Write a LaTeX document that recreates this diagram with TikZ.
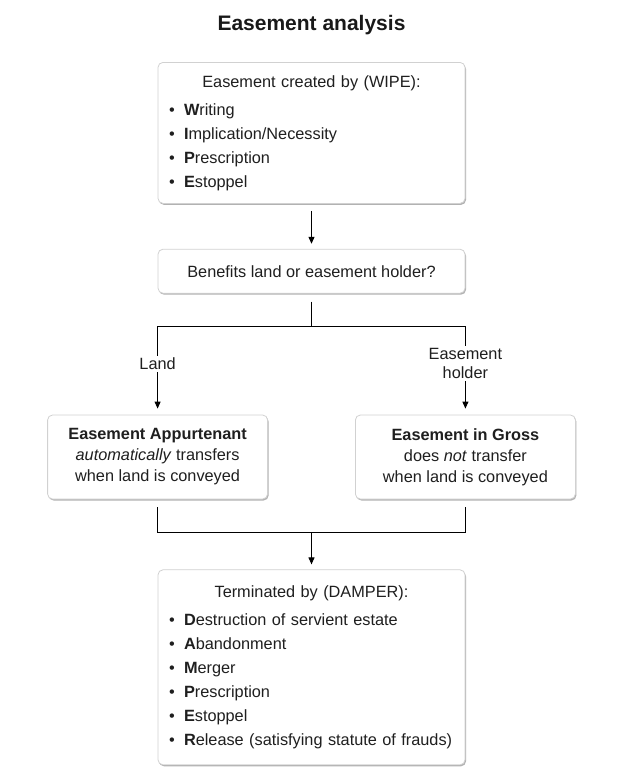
\documentclass[tikz,border=0pt]{standalone}
\usepackage{fontspec}
\setmainfont{Liberation Sans}
\usepackage{xcolor}
\usepackage{tikz}
\usetikzlibrary{arrows.meta,positioning,shadows}
\tikzset{
  card/.style={draw=black!18, fill=white, rounded corners=5pt, line width=0.8pt,
    drop shadow={shadow xshift=1pt, shadow yshift=-1.5pt, fill=black, opacity=0.3},
    text=black!88, font=\fontsize{16.3}{24}\selectfont},
  listcard/.style={card, inner xsep=11pt, text width=285pt, align=left},
  sidecard/.style={card, minimum width=220pt, minimum height=84pt, align=center, font=\fontsize{16.3}{21}\selectfont},
  heading/.style={font=\bfseries\fontsize{21}{25}\selectfont, text=black!90},
  lbl/.style={fill=white, inner sep=2pt, align=center, text=black!88, font=\fontsize{16.3}{19}\selectfont},
  conn/.style={line width=1pt},
  arrow/.style={conn, -{Triangle[length=7pt,width=6pt]}}
}
\newcommand{\bul}[2]{\par\noindent\makebox[15pt][l]{\textbullet}\textbf{#1}#2}

\begin{document}
\begin{tikzpicture}[x=1pt, y=-1pt]
  \useasboundingbox (0,0) rectangle (633,771);
  \node[heading] (title) at (311.5,25) {Easement analysis};
  \node[listcard, minimum height=141pt, anchor=north] (wipe) at (311.5,62)
    {\centerline{Easement created by (WIPE):}\vspace{4pt}%
     \bul{W}{riting}\bul{I}{mplication/Necessity}\bul{P}{rescription}\bul{E}{stoppel}};
  \node[card, minimum width=307pt, minimum height=44pt, below=45pt of wipe] (benefit)
    {Benefits land or easement holder?};
  \node[sidecard, below=121pt of benefit.south west] (app)
    {\textbf{Easement Appurtenant}\\\textit{automatically} transfers\\when land is conveyed};
  \node[sidecard, below=121pt of benefit.south east] (gross)
    {\textbf{Easement in Gross}\\does \textit{not} transfer\\when land is conveyed};
  \coordinate[below=33pt of benefit] (fork);
  \coordinate[below=33pt of app] (j0);
  \coordinate (join) at (j0 -| fork);
  \node[listcard, minimum height=195pt, below=37pt of join] (damper)
    {\centerline{Terminated by (DAMPER):}\vspace{4pt}%
     \bul{D}{estruction of servient estate}\bul{A}{bandonment}\bul{M}{erger}%
     \bul{P}{rescription}\bul{E}{stoppel}\bul{R}{elease (satisfying statute of frauds)}};

  \draw[arrow, shorten <=7pt, shorten >=5pt] (wipe) -- (benefit);
  \draw[conn, shorten <=8pt] (benefit) -- (fork);
  \draw[arrow, shorten >=6pt] (fork) -| node[lbl, pos=0.71] {Land} (app);
  \draw[arrow, shorten >=6pt] (fork) -| node[lbl, pos=0.71] {Easement\\holder} (gross);
  \draw[conn, shorten <=8pt] (app) |- (join);
  \draw[conn, shorten <=8pt] (gross) |- (join);
  \draw[arrow, shorten >=5pt] (join) -- (damper);
\end{tikzpicture}
\end{document}
